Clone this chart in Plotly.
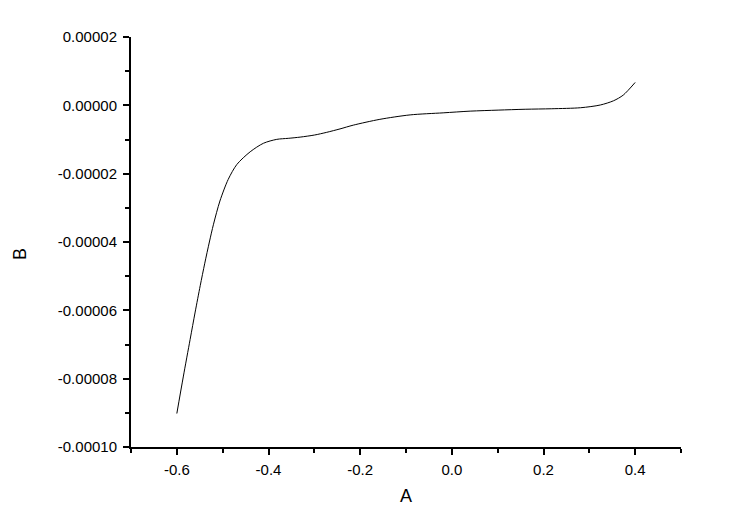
import plotly.graph_objects as go

a_vals = [-0.600, -0.586, -0.571, -0.560, -0.549, -0.539, -0.529, -0.520, -0.506,
          -0.488, -0.469, -0.440, -0.411, -0.382, -0.357, -0.331, -0.300, -0.273,
          -0.244, -0.215, -0.157, -0.091, -0.019, 0.040, 0.101, 0.160, 0.218,
          0.281, 0.324, 0.353, 0.374, 0.400]
b_vals = [-9.02e-5, -7.95e-5, -6.85e-5, -6.05e-5, -5.28e-5, -4.62e-5, -4.00e-5,
          -3.48e-5, -2.80e-5, -2.17e-5, -1.73e-5, -1.36e-5, -1.11e-5, -9.96e-6,
          -9.66e-6, -9.3e-6, -8.7e-6, -7.9e-6, -6.9e-6, -5.8e-6, -4.1e-6, -2.8e-6,
          -2.2e-6, -1.7e-6, -1.4e-6, -1.15e-6, -1.0e-6, -7e-7, 1e-7, 1.35e-6,
          3.0e-6, 6.7e-6]

x_tick_vals = [-0.6, -0.4, -0.2, 0.0, 0.2, 0.4]
x_tick_text = ["-0.6", "-0.4", "-0.2", "0.0", "0.2", "0.4"]
y_tick_vals = [-0.0001, -0.00008, -0.00006, -0.00004, -0.00002, 0.0, 0.00002]
y_tick_text = ["-0.00010", "-0.00008", "-0.00006", "-0.00004", "-0.00002", "0.00000", "0.00002"]

x_title = "A"
y_title = "B"

fig = go.Figure()
fig.add_trace(go.Scatter(x=a_vals, y=b_vals, mode="lines",
                         line=dict(color="black", width=1, shape="spline", smoothing=0.8),
                         showlegend=False))

font = dict(family="Liberation Sans, Arial, sans-serif", size=15, color="black")
fig.update_layout(
    width=744, height=512,
    margin=dict(l=123, r=71, t=29, b=73),
    paper_bgcolor="white", plot_bgcolor="white",
    font=font,
    annotations=[
        dict(text=x_title, xref="paper", yref="paper", x=0.5, y=-0.1195,
             xanchor="center", yanchor="middle", showarrow=False,
             font=dict(size=18)),
        dict(text=y_title, xref="paper", yref="paper", x=-0.2018, y=0.4707,
             xanchor="center", yanchor="middle", showarrow=False, textangle=-90,
             font=dict(size=18)),
    ],
)
fig.update_xaxes(
    range=[-0.7, 0.5], tickvals=x_tick_vals, ticktext=x_tick_text,
    showline=True, linecolor="black", linewidth=2, showgrid=False, zeroline=False,
    ticks="outside", ticklen=6, tickwidth=2, tickcolor="black",
    minor=dict(dtick=0.1, tick0=-0.7, ticks="outside", ticklen=4, tickwidth=1.5, tickcolor="black"),
    automargin=False, ticklabelstandoff=2,
    tickfont=dict(size=15),
)
fig.update_yaxes(
    range=[-0.0001, 0.00002], tickvals=y_tick_vals, ticktext=y_tick_text,
    showline=True, linecolor="black", linewidth=2, showgrid=False, zeroline=False,
    ticks="outside", ticklen=6, tickwidth=2, tickcolor="black",
    minor=dict(dtick=0.00001, tick0=-0.0001, ticks="outside", ticklen=4, tickwidth=1.5, tickcolor="black"),
    automargin=False, ticklabelstandoff=3,
    tickfont=dict(size=15),
)
fig.write_html("out.html")
